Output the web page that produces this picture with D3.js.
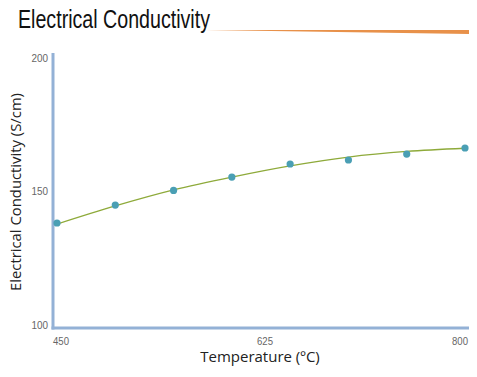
<!DOCTYPE html>
<html>
<head>
<meta charset="utf-8">
<script src="https://cdn.jsdelivr.net/npm/d3@7"></script>
<style>
  body { margin: 0; background: #fff; }
  svg { display: block; }
</style>
</head>
<body>
<div id="graph"></div>
<script>
// temperature (C) and measured conductivity (S/cm)
var temps = [450, 500, 550, 600, 650, 700, 750, 800]
var conductivity = [138.2, 144.9, 150.4, 155.4, 160.3, 161.8, 164.0, 166.3]
// smoothed trend line
var trend = [137.8, 144.6, 150.6, 155.4, 159.6, 162.9, 165.0, 166.2]
var xTicks = [450, 625, 800]
var yTicks = [100, 150, 200]

var width = 477, height = 377

var svg = d3.select('#graph').append('svg')
  .attr('width', width)
  .attr('height', height)

var x = d3.scaleLinear().domain([450, 800]).range([57, 465])
var y = d3.scaleLinear().domain([100, 200]).range([325, 58])

// title + tapered orange rule
svg.append('text')
  .attr('x', 18).attr('y', 28)
  .attr('font-family', '"Liberation Sans", Arial, sans-serif')
  .attr('font-size', 25)
  .attr('fill', '#111')
  .attr('textLength', 192)
  .attr('lengthAdjust', 'spacingAndGlyphs')
  .text('Electrical Conductivity')

svg.append('path')
  .attr('d', 'M205,30 L469,30 L469,34 Z')
  .attr('fill', '#e8914a')

// axes lines
var axisColor = '#93b1d6'
svg.append('line')
  .attr('x1', 53).attr('x2', 53)
  .attr('y1', 53).attr('y2', 329.5)
  .attr('stroke', axisColor).attr('stroke-width', 3)
svg.append('line')
  .attr('x1', 51.5).attr('x2', 469)
  .attr('y1', 328).attr('y2', 328)
  .attr('stroke', axisColor).attr('stroke-width', 3)

// tick labels
svg.append('g').selectAll('text')
  .data(yTicks).join('text')
  .attr('x', 48)
  .attr('y', d => d == 100 ? 325 : y(d))
  .attr('dy', '0.35em')
  .attr('text-anchor', 'end')
  .attr('font-family', '"Liberation Sans", sans-serif')
  .attr('font-size', 11)
  .attr('fill', '#666')
  .attr('transform', d => 'translate(48,' + (d == 100 ? 325 : y(d)) + ') scale(0.9,1) translate(-48,' + -(d == 100 ? 325 : y(d)) + ')')
  .text(d => d)

svg.append('g').selectAll('text')
  .data(xTicks).join('text')
  .attr('x', d => d == 450 ? 53 : d == 800 ? 468 : x(d) + 4)
  .attr('y', 345)
  .attr('text-anchor', d => d == 450 ? 'start' : d == 800 ? 'end' : 'middle')
  .attr('font-family', '"Liberation Sans", sans-serif')
  .attr('font-size', 11)
  .attr('fill', '#666')
  .attr('textLength', 16)
  .attr('lengthAdjust', 'spacingAndGlyphs')
  .text(d => d)

// axis titles
svg.append('text')
  .attr('x', 260).attr('y', 362)
  .attr('text-anchor', 'middle')
  .attr('font-family', '"Open Sans", "Noto Sans", sans-serif')
  .attr('font-size', 15)
  .attr('fill', '#222')
  .text('Temperature (ºC)')

svg.append('text')
  .attr('transform', 'translate(21,192) rotate(-90)')
  .attr('text-anchor', 'middle')
  .attr('font-family', '"Open Sans", "Noto Sans", sans-serif')
  .attr('font-size', 15)
  .attr('fill', '#222')
  .attr('textLength', 198)
  .attr('lengthAdjust', 'spacingAndGlyphs')
  .text('Electrical Conductivity (S/cm)')

// trend line
var line = d3.line()
  .x((d, i) => x(temps[i]))
  .y(d => y(d))
  .curve(d3.curveMonotoneX)

svg.append('path')
  .datum(trend)
  .attr('d', line)
  .attr('fill', 'none')
  .attr('stroke', '#8eaa3a')
  .attr('stroke-width', 1.3)

// points
svg.append('g').selectAll('circle')
  .data(conductivity).join('circle')
  .attr('cx', (d, i) => x(temps[i]))
  .attr('cy', d => y(d))
  .attr('r', 3.6)
  .attr('fill', '#4a9fb4')
</script>
</body>
</html>
